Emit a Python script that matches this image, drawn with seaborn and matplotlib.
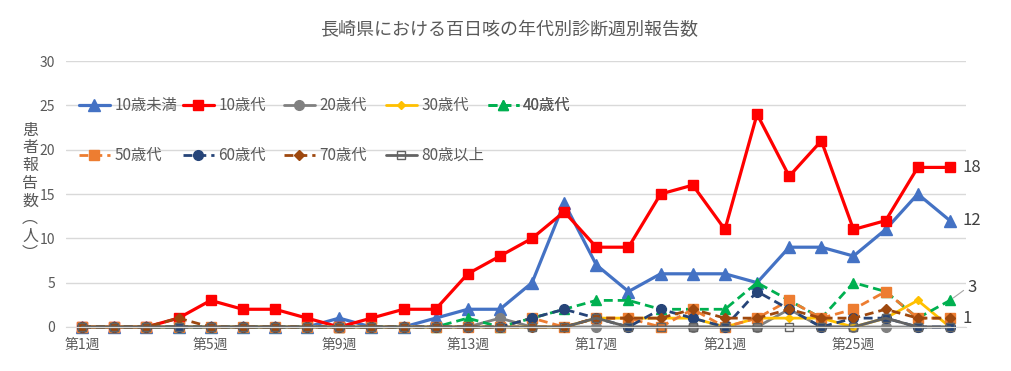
import matplotlib
matplotlib.use('Agg')
import matplotlib.pyplot as plt
import seaborn as sns

weeks = list(range(1, 29))
week_ticks = [1, 5, 9, 13, 17, 21, 25]
week_labels = ['第{}週'.format(w) for w in week_ticks]

age_groups = ['10歳未満', '10歳代', '20歳代', '30歳代', '40歳代',
              '50歳代', '60歳代', '70歳代', '80歳以上']

under10 = [0, 0, 0, 0, 0, 0, 0, 0, 1, 0, 0, 1, 2, 2, 5, 14, 7, 4, 6, 6, 6, 5, 9, 9, 8, 11, 15, 12]
teens = [0, 0, 0, 1, 3, 2, 2, 1, 0, 1, 2, 2, 6, 8, 10, 13, 9, 9, 15, 16, 11, 24, 17, 21, 11, 12, 18, 18]
twenties = [0, 0, 0, 0, 0, 0, 0, 0, 0, 0, 0, 0, 0, 1, 0, 0, 0, 0, 0, 0, 0, 0, 2, 0, 0, 0, 0, 0]
thirties = [0, 0, 0, 0, 0, 0, 0, 0, 0, 0, 0, 0, 0, 0, 0, 0, 1, 1, 1, 1, 0, 1, 1, 1, 0, 1, 3, 0]
forties = [0, 0, 0, 0, 0, 0, 0, 0, 0, 0, 0, 0, 1, 0, 1, 2, 3, 3, 2, 2, 2, 5, 3, 1, 5, 4, 1, 3]
fifties = [0, 0, 0, 0, 0, 0, 0, 0, 0, 0, 0, 0, 0, 0, 1, 0, 1, 1, 0, 2, 0, 1, 3, 1, 2, 4, 1, 1]
sixties = [0, 0, 0, 0, 0, 0, 0, 0, 0, 0, 0, 0, 0, 0, 1, 2, 1, 0, 2, 1, 0, 4, 2, 0, 1, 1, 0, 0]
seventies = [0, 0, 0, 1, 0, 0, 0, 0, 0, 0, 0, 0, 0, 0, 0, 0, 1, 1, 1, 2, 1, 1, 2, 1, 1, 2, 1, 1]
over80 = [0, 0, 0, 0, 0, 0, 0, 0, 0, 0, 0, 0, 0, 0, 0, 0, 1, 0, 0, 0, 0, 0, 0, 0, 0, 1, 0, 0]

series = [under10, teens, twenties, thirties, forties,
          fifties, sixties, seventies, over80]

dash = (0, (3.2, 1.8))
styles = [
    dict(color='#4472C4', marker='^', markersize=8, linewidth=2.3, linestyle='-'),
    dict(color='#FF0000', marker='s', markersize=7, linewidth=2.3, linestyle='-'),
    dict(color='#808080', marker='o', markersize=7, linewidth=2.0, linestyle='-'),
    dict(color='#FFC000', marker='D', markersize=4.5, linewidth=2.0, linestyle='-'),
    dict(color='#00B050', marker='^', markersize=7.5, linewidth=2.0, linestyle=dash),
    dict(color='#ED7D31', marker='s', markersize=7, linewidth=2.0, linestyle=dash),
    dict(color='#264478', marker='o', markersize=7, linewidth=2.0, linestyle=dash),
    dict(color='#9E480E', marker='D', markersize=5, linewidth=2.0, linestyle=dash),
    dict(color='#636363', marker='s', markersize=6, linewidth=2.0, linestyle='-'),
]

W, H = 1011, 371
text_color = '#595959'

sns.set_style('white')
plt.rcParams['font.family'] = ['Noto Sans CJK JP', 'DejaVu Sans']

fig = plt.figure(figsize=(W / 100, H / 100), dpi=100)
ax = fig.add_axes([66 / W, 1 - 327 / H, 900 / W, 266 / H])

for name, vals, st in zip(age_groups, series, styles):
    face = 'none' if name == '80歳以上' else st['color']
    sns.lineplot(x=weeks, y=vals, ax=ax, errorbar=None, label=name,
                 color=st['color'], marker=st['marker'],
                 markersize=st['markersize'], linewidth=st['linewidth'],
                 linestyle=st['linestyle'], markerfacecolor=face,
                 markeredgecolor=st['color'], markeredgewidth=1.0,
                 clip_on=False)

ax.set_xlim(0.5, 28.5)
ax.set_ylim(0, 30)
ax.set_yticks(range(0, 31, 5))
ax.set_xticks(week_ticks)
ax.set_xticklabels(week_labels)
ax.tick_params(axis='both', length=0, labelsize=10, labelcolor=text_color)
ax.tick_params(axis='y', pad=8)
ax.tick_params(axis='x', pad=8)
ax.grid(axis='y', color='#D9D9D9', linewidth=1)
ax.set_axisbelow(True)
for side in ['left', 'right', 'top']:
    ax.spines[side].set_visible(False)
ax.spines['bottom'].set_color('#D9D9D9')
ax.set_xlabel('')
ax.set_ylabel('')

# data labels on the last week
ax.annotate('18', (28, teens[-1]), xytext=(9, 0), textcoords='offset points',
            va='center', ha='left', fontsize=12, color='#404040')
ax.annotate('12', (28, under10[-1]), xytext=(9, 0), textcoords='offset points',
            va='center', ha='left', fontsize=12, color='#404040')
ax.annotate('1', (28, seventies[-1]), xytext=(9, 0), textcoords='offset points',
            va='center', ha='left', fontsize=12, color='#404040')
ax.annotate('3', (28, forties[-1]), xytext=(13, 9.5), textcoords='offset points',
            va='center', ha='left', fontsize=12, color='#404040',
            arrowprops=dict(arrowstyle='-', color='#A6A6A6', lw=0.8,
                            shrinkA=1, shrinkB=3, relpos=(0, 0.5)))

# legend laid out in fixed columns, two rows
handles, labels = ax.get_legend_handles_labels()
col_x = [79, 183, 284, 386, 488]
for i, x0 in enumerate(col_x):
    idx = [j for j in (i, i + 5) if j < len(handles)]
    leg = ax.legend([handles[j] for j in idx], [labels[j] for j in idx],
                    loc='upper left', bbox_to_anchor=(x0 / W, 1 - 97 / H),
                    bbox_transform=fig.transFigure, frameon=False,
                    borderpad=0, borderaxespad=0, handlelength=2.0,
                    handletextpad=0.3, labelspacing=2.15, fontsize=11,
                    labelcolor=text_color)
    ax.add_artist(leg)

fig.text(509 / W, 1 - 30 / H, '長崎県における百日咳の年代別診断週別報告数',
         ha='center', va='center', fontsize=13, color=text_color)
fig.text(30 / W, 1 - 192 / H, '\n'.join('患者報告数︵人︶'),
         ha='center', va='center', fontsize=11.5, color=text_color,
         linespacing=1.05)

fig.savefig('out.png', dpi=100)
